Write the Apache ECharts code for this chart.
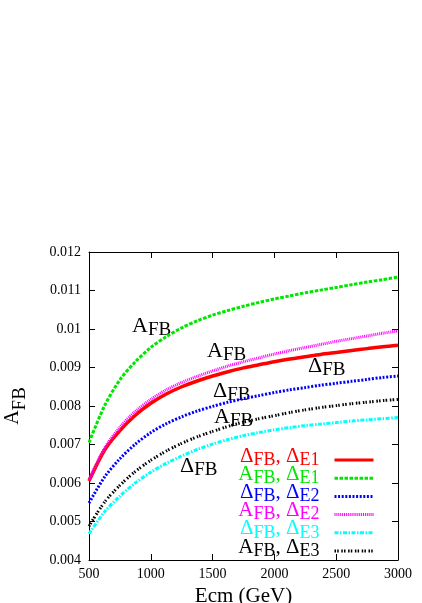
<!DOCTYPE html>
<html>
<head>
<meta charset="utf-8">
<script src="https://cdn.jsdelivr.net/npm/echarts@6/dist/echarts.min.js"></script>
<style>
  html, body { margin: 0; padding: 0; background: #fff; }
  #chart { width: 422px; height: 603px; }
</style>
</head>
<body>
<div id="chart"></div>
<script>
// centre of mass energy, GeV
const ecm = [500, 625, 750, 875, 1000, 1125, 1250, 1375, 1500, 1625, 1750,
  1875, 2000, 2125, 2250, 2375, 2500, 2625, 2750, 2875, 3000];

const dfbE1 = [0.00605, 0.00685, 0.00736, 0.00776, 0.00807, 0.00831, 0.00850, 0.00865, 0.00878, 0.00889, 0.00899,
  0.00907, 0.00915, 0.00922, 0.00928, 0.00934, 0.00939, 0.00944, 0.00949, 0.00954, 0.00958]; // red
const afbE1 = [0.00705, 0.00800, 0.00868, 0.00915, 0.00952, 0.00980, 0.01003, 0.01021, 0.01036, 0.01048, 0.01059,
  0.01069, 0.01078, 0.01086, 0.01094, 0.01101, 0.01108, 0.01115, 0.01122, 0.01128, 0.01135]; // green
const dfbE2 = [0.00548, 0.00615, 0.00663, 0.00701, 0.00731, 0.00754, 0.00772, 0.00787, 0.00799, 0.00810, 0.00819,
  0.00827, 0.00835, 0.00842, 0.00848, 0.00854, 0.00859, 0.00864, 0.00869, 0.00874, 0.00878]; // blue
const afbE2 = [0.00608, 0.00690, 0.00745, 0.00786, 0.00817, 0.00842, 0.00861, 0.00877, 0.00891, 0.00904, 0.00915,
  0.00925, 0.00935, 0.00944, 0.00952, 0.00960, 0.00968, 0.00975, 0.00982, 0.00989, 0.00995]; // magenta
const dfbE3 = [0.00468, 0.00525, 0.00566, 0.00600, 0.00628, 0.00651, 0.00670, 0.00687, 0.00701, 0.00713, 0.00723,
  0.00731, 0.00738, 0.00744, 0.00749, 0.00753, 0.00757, 0.00761, 0.00764, 0.00767, 0.00770]; // cyan
const afbE3 = [0.00488, 0.00550, 0.00594, 0.00630, 0.00659, 0.00683, 0.00703, 0.00720, 0.00734, 0.00747, 0.00758,
  0.00767, 0.00775, 0.00783, 0.00790, 0.00796, 0.00801, 0.00806, 0.00810, 0.00814, 0.00817]; // black

const xTicks = [500, 1000, 1500, 2000, 2500, 3000];
const yTicks = [0.004, 0.005, 0.006, 0.007, 0.008, 0.009, 0.01, 0.011, 0.012];

const FONT = '"Liberation Serif", "DejaVu Serif", serif';

const curves = [
  { name: 'ΔFB, ΔE1', parts: ['Δ', 'FB', ', Δ', 'E1'], data: dfbE1, color: '#ff0000', width: 3.5, dash: 'solid' },
  { name: 'AFB, ΔE1', parts: ['A', 'FB', ', Δ', 'E1'], data: afbE1, color: '#00e600', width: 3, dash: [3.5, 1.5] },
  { name: 'ΔFB, ΔE2', parts: ['Δ', 'FB', ', Δ', 'E2'], data: dfbE2, color: '#0000ff', width: 3, dash: [2, 1.6] },
  { name: 'AFB, ΔE2', parts: ['A', 'FB', ', Δ', 'E2'], data: afbE2, color: '#ff00ff', width: 3, dash: [1, 0.9] },
  { name: 'ΔFB, ΔE3', parts: ['Δ', 'FB', ', Δ', 'E3'], data: dfbE3, color: '#00ffff', width: 3, dash: [4, 1.5, 1.5, 1.5] },
  { name: 'AFB, ΔE3', parts: ['A', 'FB', ', Δ', 'E3'], data: afbE3, color: '#000000', width: 3, dash: [1.5, 1.2, 1.5, 2.6] }
];

// in-plot labels (pixel positions)
const notes = [
  { t: 'A', x: 132, y: 315 },
  { t: 'A', x: 207, y: 340 },
  { t: 'Δ', x: 308, y: 355 },
  { t: 'Δ', x: 213, y: 380 },
  { t: 'A', x: 214, y: 406 },
  { t: 'Δ', x: 180, y: 455 }
];

const chart = echarts.init(document.getElementById('chart'));

const axisLine = { show: true, lineStyle: { color: '#000', width: 1 } };
const tick = { show: true, inside: true, length: 6, lineStyle: { color: '#000' } };

const xMin = xTicks[0], xMax = xTicks[xTicks.length - 1], xStep = xTicks[1] - xTicks[0];
const yMin = yTicks[0], yMax = yTicks[yTicks.length - 1], yStep = 0.001;

const subRich = (main, sub, lh, pad) => ({
  m: { fontSize: main, fontFamily: FONT, lineHeight: lh },
  s: { fontSize: sub, fontFamily: FONT, lineHeight: lh, padding: [pad, 0, 0, 0] }
});

chart.setOption({
  animation: false,
  backgroundColor: '#fff',
  textStyle: { fontFamily: FONT },
  grid: { left: 89, right: 24, top: 252, bottom: 43, outerBoundsMode: 'none', containLabel: false },
  xAxis: [
    {
      type: 'value', min: xMin, max: xMax, interval: xStep,
      position: 'bottom',
      axisLine, axisTick: tick, splitLine: { show: false },
      axisLabel: { color: '#000', fontSize: 14, fontFamily: FONT, margin: 7, formatter: v => String(v) },
      name: 'Ecm (GeV)', nameLocation: 'middle', nameGap: 17,
      nameTextStyle: { color: '#000', fontSize: 21, fontFamily: FONT }
    },
    {
      type: 'value', min: xMin, max: xMax, interval: xStep,
      position: 'top',
      axisLine, axisTick: tick, splitLine: { show: false }, axisLabel: { show: false }
    }
  ],
  yAxis: [
    {
      type: 'value', min: yMin, max: yMax, interval: yStep,
      position: 'left',
      axisLine, axisTick: tick, splitLine: { show: false },
      axisLabel: { color: '#000', fontSize: 14, fontFamily: FONT, margin: 8, formatter: v => String(+v.toFixed(3)) },
      name: '{m|A}{s|FB}', nameLocation: 'middle', nameRotate: 90, nameGap: 66,
      nameTextStyle: { color: '#000', lineHeight: 20, rich: subRich(20, 19, 20, 14) }
    },
    {
      type: 'value', min: yMin, max: yMax, interval: yStep,
      position: 'right',
      axisLine, axisTick: tick, splitLine: { show: false }, axisLabel: { show: false }
    }
  ],
  legend: {
    orient: 'vertical',
    align: 'right',
    right: 47,
    top: 443,
    itemWidth: 39,
    itemHeight: 6,
    itemGap: -11.8,
    padding: 0,
    data: curves.map(c => ({ name: c.name, textStyle: { color: c.color } })),
    itemStyle: { opacity: 0 },
    lineStyle: { width: 3 },
    textStyle: {
      lineHeight: 18,
      padding: [0, 10, 8, 0],
      rich: subRich(21, 18, 18, 8)
    },
    formatter: name => {
      const p = curves.find(c => c.name === name).parts;
      return `{m|${p[0]}}{s|${p[1]}}{m|${p[2]}}{s|${p[3]}}`;
    }
  },
  graphic: notes.map(n => ({
    type: 'text',
    x: n.x,
    y: n.y,
    style: {
      text: `{m|${n.t}}{s|FB}`,
      fill: '#000',
      verticalAlign: 'top',
      rich: subRich(22, 19, 22, 8)
    }
  })),
  series: curves.map(c => ({
    name: c.name,
    type: 'line',
    smooth: 0.3,
    symbol: 'none',
    data: ecm.map((e, i) => [e, c.data[i]]),
    color: c.color,
    lineStyle: { color: c.color, width: c.width, type: c.dash }
  }))
});
</script>
</body>
</html>
